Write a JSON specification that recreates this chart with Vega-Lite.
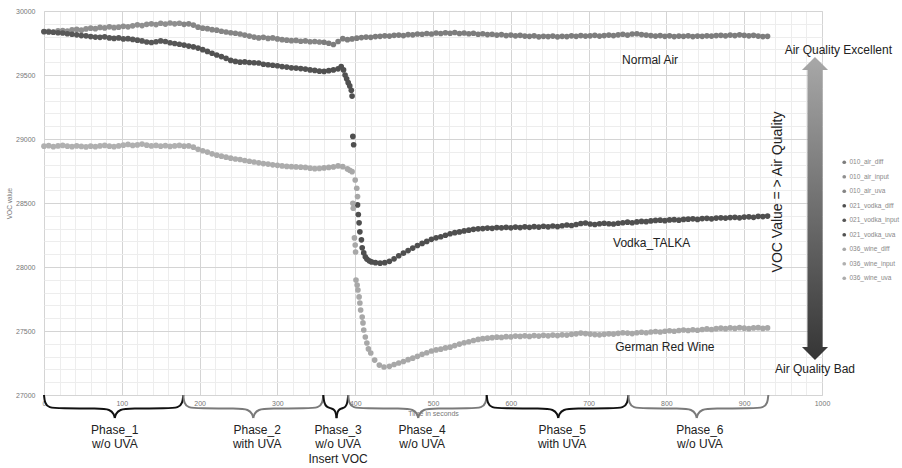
{
"$schema":"https://vega.github.io/schema/vega-lite/v6.json",
"width":778,"height":384,
"autosize":{"type":"none"},
"padding":{"left":44,"top":11,"right":80,"bottom":73},
"background":"white",
"config":{"view":{"stroke":"#d6d6d6"},"font":"Liberation Sans"},
"datasets":{
"pts":[
{"t":0,"v":29838,"s":"010_air_input"},{"t":6,"v":29842,"s":"010_air_input"},{"t":12,"v":29836,"s":"010_air_input"},{"t":18,"v":29845,"s":"010_air_input"},{"t":24,"v":29848,"s":"010_air_input"},{"t":30,"v":29844,"s":"010_air_input"},{"t":36,"v":29852,"s":"010_air_input"},{"t":42,"v":29856,"s":"010_air_input"},{"t":48,"v":29850,"s":"010_air_input"},{"t":54,"v":29860,"s":"010_air_input"},{"t":60,"v":29866,"s":"010_air_input"},{"t":66,"v":29862,"s":"010_air_input"},{"t":72,"v":29872,"s":"010_air_input"},{"t":78,"v":29868,"s":"010_air_input"},{"t":84,"v":29876,"s":"010_air_input"},{"t":90,"v":29870,"s":"010_air_input"},{"t":96,"v":29874,"s":"010_air_input"},{"t":102,"v":29880,"s":"010_air_input"},{"t":108,"v":29876,"s":"010_air_input"},{"t":114,"v":29884,"s":"010_air_input"},{"t":120,"v":29892,"s":"010_air_input"},{"t":126,"v":29886,"s":"010_air_input"},{"t":132,"v":29896,"s":"010_air_input"},{"t":138,"v":29900,"s":"010_air_input"},{"t":144,"v":29894,"s":"010_air_input"},{"t":150,"v":29904,"s":"010_air_input"},{"t":156,"v":29898,"s":"010_air_input"},{"t":162,"v":29906,"s":"010_air_input"},{"t":168,"v":29900,"s":"010_air_input"},{"t":174,"v":29904,"s":"010_air_input"},
{"t":180,"v":29896,"s":"010_air_uva"},{"t":186,"v":29900,"s":"010_air_uva"},{"t":192,"v":29890,"s":"010_air_uva"},{"t":198,"v":29874,"s":"010_air_uva"},{"t":204,"v":29866,"s":"010_air_uva"},{"t":210,"v":29862,"s":"010_air_uva"},{"t":216,"v":29854,"s":"010_air_uva"},{"t":222,"v":29850,"s":"010_air_uva"},{"t":228,"v":29842,"s":"010_air_uva"},{"t":234,"v":29836,"s":"010_air_uva"},{"t":240,"v":29830,"s":"010_air_uva"},{"t":246,"v":29826,"s":"010_air_uva"},{"t":252,"v":29820,"s":"010_air_uva"},{"t":258,"v":29812,"s":"010_air_uva"},{"t":264,"v":29804,"s":"010_air_uva"},{"t":270,"v":29796,"s":"010_air_uva"},{"t":276,"v":29790,"s":"010_air_uva"},{"t":282,"v":29794,"s":"010_air_uva"},{"t":288,"v":29786,"s":"010_air_uva"},{"t":294,"v":29790,"s":"010_air_uva"},{"t":300,"v":29782,"s":"010_air_uva"},{"t":306,"v":29776,"s":"010_air_uva"},{"t":312,"v":29772,"s":"010_air_uva"},{"t":318,"v":29768,"s":"010_air_uva"},{"t":324,"v":29770,"s":"010_air_uva"},{"t":330,"v":29764,"s":"010_air_uva"},{"t":336,"v":29766,"s":"010_air_uva"},{"t":342,"v":29760,"s":"010_air_uva"},{"t":348,"v":29762,"s":"010_air_uva"},{"t":354,"v":29758,"s":"010_air_uva"},
{"t":360,"v":29756,"s":"010_air_diff"},{"t":366,"v":29748,"s":"010_air_diff"},{"t":372,"v":29738,"s":"010_air_diff"},{"t":378,"v":29762,"s":"010_air_diff"},{"t":384,"v":29784,"s":"010_air_diff"},{"t":390,"v":29776,"s":"010_air_diff"},{"t":396,"v":29782,"s":"010_air_diff"},{"t":402,"v":29788,"s":"010_air_diff"},{"t":408,"v":29792,"s":"010_air_diff"},{"t":414,"v":29796,"s":"010_air_diff"},{"t":420,"v":29794,"s":"010_air_diff"},{"t":426,"v":29800,"s":"010_air_diff"},{"t":432,"v":29802,"s":"010_air_diff"},{"t":438,"v":29806,"s":"010_air_diff"},{"t":444,"v":29804,"s":"010_air_diff"},{"t":450,"v":29810,"s":"010_air_diff"},{"t":456,"v":29812,"s":"010_air_diff"},{"t":462,"v":29808,"s":"010_air_diff"},{"t":468,"v":29816,"s":"010_air_diff"},{"t":474,"v":29814,"s":"010_air_diff"},{"t":480,"v":29820,"s":"010_air_diff"},{"t":486,"v":29818,"s":"010_air_diff"},{"t":492,"v":29824,"s":"010_air_diff"},{"t":498,"v":29820,"s":"010_air_diff"},{"t":504,"v":29828,"s":"010_air_diff"},{"t":510,"v":29824,"s":"010_air_diff"},{"t":516,"v":29830,"s":"010_air_diff"},{"t":522,"v":29826,"s":"010_air_diff"},{"t":528,"v":29832,"s":"010_air_diff"},{"t":534,"v":29824,"s":"010_air_diff"},{"t":540,"v":29828,"s":"010_air_diff"},{"t":546,"v":29822,"s":"010_air_diff"},{"t":552,"v":29826,"s":"010_air_diff"},{"t":558,"v":29818,"s":"010_air_diff"},{"t":564,"v":29822,"s":"010_air_diff"},{"t":570,"v":29816,"s":"010_air_diff"},{"t":576,"v":29818,"s":"010_air_diff"},{"t":582,"v":29812,"s":"010_air_diff"},{"t":588,"v":29816,"s":"010_air_diff"},{"t":594,"v":29808,"s":"010_air_diff"},{"t":600,"v":29812,"s":"010_air_diff"},{"t":606,"v":29806,"s":"010_air_diff"},{"t":612,"v":29810,"s":"010_air_diff"},{"t":618,"v":29804,"s":"010_air_diff"},{"t":624,"v":29802,"s":"010_air_diff"},{"t":630,"v":29806,"s":"010_air_diff"},{"t":636,"v":29798,"s":"010_air_diff"},{"t":642,"v":29802,"s":"010_air_diff"},{"t":648,"v":29800,"s":"010_air_diff"},{"t":654,"v":29804,"s":"010_air_diff"},{"t":660,"v":29798,"s":"010_air_diff"},{"t":666,"v":29802,"s":"010_air_diff"},{"t":672,"v":29800,"s":"010_air_diff"},{"t":678,"v":29806,"s":"010_air_diff"},{"t":684,"v":29802,"s":"010_air_diff"},{"t":690,"v":29808,"s":"010_air_diff"},{"t":696,"v":29804,"s":"010_air_diff"},{"t":702,"v":29806,"s":"010_air_diff"},{"t":708,"v":29810,"s":"010_air_diff"},{"t":714,"v":29804,"s":"010_air_diff"},{"t":720,"v":29808,"s":"010_air_diff"},{"t":726,"v":29812,"s":"010_air_diff"},{"t":732,"v":29808,"s":"010_air_diff"},{"t":738,"v":29814,"s":"010_air_diff"},{"t":744,"v":29818,"s":"010_air_diff"},{"t":750,"v":29812,"s":"010_air_diff"},{"t":756,"v":29820,"s":"010_air_diff"},{"t":762,"v":29822,"s":"010_air_diff"},{"t":768,"v":29816,"s":"010_air_diff"},{"t":774,"v":29812,"s":"010_air_diff"},{"t":780,"v":29808,"s":"010_air_diff"},{"t":786,"v":29804,"s":"010_air_diff"},{"t":792,"v":29808,"s":"010_air_diff"},{"t":798,"v":29802,"s":"010_air_diff"},{"t":804,"v":29806,"s":"010_air_diff"},{"t":810,"v":29800,"s":"010_air_diff"},{"t":816,"v":29804,"s":"010_air_diff"},{"t":822,"v":29802,"s":"010_air_diff"},{"t":828,"v":29806,"s":"010_air_diff"},{"t":834,"v":29800,"s":"010_air_diff"},{"t":840,"v":29804,"s":"010_air_diff"},{"t":846,"v":29802,"s":"010_air_diff"},{"t":852,"v":29806,"s":"010_air_diff"},{"t":858,"v":29804,"s":"010_air_diff"},{"t":864,"v":29808,"s":"010_air_diff"},{"t":870,"v":29810,"s":"010_air_diff"},{"t":876,"v":29806,"s":"010_air_diff"},{"t":882,"v":29812,"s":"010_air_diff"},{"t":888,"v":29808,"s":"010_air_diff"},{"t":894,"v":29814,"s":"010_air_diff"},{"t":900,"v":29810,"s":"010_air_diff"},{"t":906,"v":29806,"s":"010_air_diff"},{"t":912,"v":29810,"s":"010_air_diff"},{"t":918,"v":29804,"s":"010_air_diff"},{"t":924,"v":29800,"s":"010_air_diff"},{"t":930,"v":29802,"s":"010_air_diff"},
{"t":0,"v":29840,"s":"021_vodka_input"},{"t":6,"v":29836,"s":"021_vodka_input"},{"t":12,"v":29834,"s":"021_vodka_input"},{"t":18,"v":29830,"s":"021_vodka_input"},{"t":24,"v":29828,"s":"021_vodka_input"},{"t":30,"v":29822,"s":"021_vodka_input"},{"t":36,"v":29818,"s":"021_vodka_input"},{"t":42,"v":29814,"s":"021_vodka_input"},{"t":48,"v":29808,"s":"021_vodka_input"},{"t":54,"v":29806,"s":"021_vodka_input"},{"t":60,"v":29800,"s":"021_vodka_input"},{"t":66,"v":29796,"s":"021_vodka_input"},{"t":72,"v":29794,"s":"021_vodka_input"},{"t":78,"v":29798,"s":"021_vodka_input"},{"t":84,"v":29790,"s":"021_vodka_input"},{"t":90,"v":29786,"s":"021_vodka_input"},{"t":96,"v":29790,"s":"021_vodka_input"},{"t":102,"v":29782,"s":"021_vodka_input"},{"t":108,"v":29784,"s":"021_vodka_input"},{"t":114,"v":29778,"s":"021_vodka_input"},{"t":120,"v":29772,"s":"021_vodka_input"},{"t":126,"v":29766,"s":"021_vodka_input"},{"t":132,"v":29758,"s":"021_vodka_input"},{"t":138,"v":29754,"s":"021_vodka_input"},{"t":144,"v":29760,"s":"021_vodka_input"},{"t":150,"v":29766,"s":"021_vodka_input"},{"t":156,"v":29762,"s":"021_vodka_input"},{"t":162,"v":29752,"s":"021_vodka_input"},{"t":168,"v":29746,"s":"021_vodka_input"},{"t":174,"v":29740,"s":"021_vodka_input"},
{"t":180,"v":29734,"s":"021_vodka_uva"},{"t":186,"v":29726,"s":"021_vodka_uva"},{"t":192,"v":29720,"s":"021_vodka_uva"},{"t":198,"v":29710,"s":"021_vodka_uva"},{"t":204,"v":29698,"s":"021_vodka_uva"},{"t":210,"v":29684,"s":"021_vodka_uva"},{"t":216,"v":29670,"s":"021_vodka_uva"},{"t":222,"v":29656,"s":"021_vodka_uva"},{"t":228,"v":29644,"s":"021_vodka_uva"},{"t":234,"v":29630,"s":"021_vodka_uva"},{"t":240,"v":29614,"s":"021_vodka_uva"},{"t":246,"v":29606,"s":"021_vodka_uva"},{"t":252,"v":29600,"s":"021_vodka_uva"},{"t":258,"v":29602,"s":"021_vodka_uva"},{"t":264,"v":29598,"s":"021_vodka_uva"},{"t":270,"v":29596,"s":"021_vodka_uva"},{"t":276,"v":29594,"s":"021_vodka_uva"},{"t":282,"v":29584,"s":"021_vodka_uva"},{"t":288,"v":29580,"s":"021_vodka_uva"},{"t":294,"v":29576,"s":"021_vodka_uva"},{"t":300,"v":29572,"s":"021_vodka_uva"},{"t":306,"v":29566,"s":"021_vodka_uva"},{"t":312,"v":29562,"s":"021_vodka_uva"},{"t":318,"v":29556,"s":"021_vodka_uva"},{"t":324,"v":29554,"s":"021_vodka_uva"},{"t":330,"v":29550,"s":"021_vodka_uva"},{"t":336,"v":29546,"s":"021_vodka_uva"},{"t":342,"v":29540,"s":"021_vodka_uva"},{"t":348,"v":29536,"s":"021_vodka_uva"},{"t":354,"v":29530,"s":"021_vodka_uva"},
{"t":360,"v":29528,"s":"021_vodka_diff"},{"t":366,"v":29534,"s":"021_vodka_diff"},{"t":372,"v":29540,"s":"021_vodka_diff"},{"t":378,"v":29548,"s":"021_vodka_diff"},{"t":382,"v":29566,"s":"021_vodka_diff"},{"t":385,"v":29540,"s":"021_vodka_diff"},{"t":387,"v":29500,"s":"021_vodka_diff"},{"t":389,"v":29470,"s":"021_vodka_diff"},{"t":391,"v":29440,"s":"021_vodka_diff"},{"t":393,"v":29415,"s":"021_vodka_diff"},{"t":395,"v":29380,"s":"021_vodka_diff"},{"t":396,"v":29335,"s":"021_vodka_diff"},{"t":397,"v":29020,"s":"021_vodka_diff"},{"t":398,"v":28955,"s":"021_vodka_diff"},{"t":403,"v":28485,"s":"021_vodka_diff"},{"t":404,"v":28410,"s":"021_vodka_diff"},{"t":405,"v":28345,"s":"021_vodka_diff"},{"t":406,"v":28275,"s":"021_vodka_diff"},{"t":408,"v":28212,"s":"021_vodka_diff"},{"t":409,"v":28150,"s":"021_vodka_diff"},{"t":411,"v":28110,"s":"021_vodka_diff"},{"t":413,"v":28080,"s":"021_vodka_diff"},{"t":415,"v":28062,"s":"021_vodka_diff"},{"t":418,"v":28048,"s":"021_vodka_diff"},{"t":421,"v":28040,"s":"021_vodka_diff"},{"t":426,"v":28034,"s":"021_vodka_diff"},{"t":432,"v":28030,"s":"021_vodka_diff"},{"t":438,"v":28034,"s":"021_vodka_diff"},{"t":444,"v":28044,"s":"021_vodka_diff"},{"t":450,"v":28064,"s":"021_vodka_diff"},{"t":456,"v":28088,"s":"021_vodka_diff"},{"t":462,"v":28108,"s":"021_vodka_diff"},{"t":468,"v":28128,"s":"021_vodka_diff"},{"t":474,"v":28148,"s":"021_vodka_diff"},{"t":480,"v":28168,"s":"021_vodka_diff"},{"t":486,"v":28184,"s":"021_vodka_diff"},{"t":492,"v":28200,"s":"021_vodka_diff"},{"t":498,"v":28216,"s":"021_vodka_diff"},{"t":504,"v":28228,"s":"021_vodka_diff"},{"t":510,"v":28236,"s":"021_vodka_diff"},{"t":516,"v":28248,"s":"021_vodka_diff"},{"t":522,"v":28260,"s":"021_vodka_diff"},{"t":528,"v":28268,"s":"021_vodka_diff"},{"t":534,"v":28274,"s":"021_vodka_diff"},{"t":540,"v":28282,"s":"021_vodka_diff"},{"t":546,"v":28288,"s":"021_vodka_diff"},{"t":552,"v":28294,"s":"021_vodka_diff"},{"t":558,"v":28298,"s":"021_vodka_diff"},{"t":564,"v":28300,"s":"021_vodka_diff"},{"t":570,"v":28304,"s":"021_vodka_diff"},{"t":576,"v":28302,"s":"021_vodka_diff"},{"t":582,"v":28308,"s":"021_vodka_diff"},{"t":588,"v":28306,"s":"021_vodka_diff"},{"t":594,"v":28310,"s":"021_vodka_diff"},{"t":600,"v":28306,"s":"021_vodka_diff"},{"t":606,"v":28312,"s":"021_vodka_diff"},{"t":612,"v":28308,"s":"021_vodka_diff"},{"t":618,"v":28314,"s":"021_vodka_diff"},{"t":624,"v":28310,"s":"021_vodka_diff"},{"t":630,"v":28316,"s":"021_vodka_diff"},{"t":636,"v":28312,"s":"021_vodka_diff"},{"t":642,"v":28318,"s":"021_vodka_diff"},{"t":648,"v":28314,"s":"021_vodka_diff"},{"t":654,"v":28320,"s":"021_vodka_diff"},{"t":660,"v":28316,"s":"021_vodka_diff"},{"t":666,"v":28322,"s":"021_vodka_diff"},{"t":672,"v":28328,"s":"021_vodka_diff"},{"t":678,"v":28324,"s":"021_vodka_diff"},{"t":684,"v":28332,"s":"021_vodka_diff"},{"t":690,"v":28340,"s":"021_vodka_diff"},{"t":696,"v":28344,"s":"021_vodka_diff"},{"t":702,"v":28336,"s":"021_vodka_diff"},{"t":708,"v":28332,"s":"021_vodka_diff"},{"t":714,"v":28338,"s":"021_vodka_diff"},{"t":720,"v":28342,"s":"021_vodka_diff"},{"t":726,"v":28338,"s":"021_vodka_diff"},{"t":732,"v":28336,"s":"021_vodka_diff"},{"t":738,"v":28342,"s":"021_vodka_diff"},{"t":744,"v":28346,"s":"021_vodka_diff"},{"t":750,"v":28350,"s":"021_vodka_diff"},{"t":756,"v":28346,"s":"021_vodka_diff"},{"t":762,"v":28352,"s":"021_vodka_diff"},{"t":768,"v":28356,"s":"021_vodka_diff"},{"t":774,"v":28354,"s":"021_vodka_diff"},{"t":780,"v":28360,"s":"021_vodka_diff"},{"t":786,"v":28364,"s":"021_vodka_diff"},{"t":792,"v":28366,"s":"021_vodka_diff"},{"t":798,"v":28362,"s":"021_vodka_diff"},{"t":804,"v":28368,"s":"021_vodka_diff"},{"t":810,"v":28370,"s":"021_vodka_diff"},{"t":816,"v":28366,"s":"021_vodka_diff"},{"t":822,"v":28372,"s":"021_vodka_diff"},{"t":828,"v":28374,"s":"021_vodka_diff"},{"t":834,"v":28376,"s":"021_vodka_diff"},{"t":840,"v":28372,"s":"021_vodka_diff"},{"t":846,"v":28378,"s":"021_vodka_diff"},{"t":852,"v":28380,"s":"021_vodka_diff"},{"t":858,"v":28376,"s":"021_vodka_diff"},{"t":864,"v":28382,"s":"021_vodka_diff"},{"t":870,"v":28384,"s":"021_vodka_diff"},{"t":876,"v":28382,"s":"021_vodka_diff"},{"t":882,"v":28386,"s":"021_vodka_diff"},{"t":888,"v":28388,"s":"021_vodka_diff"},{"t":894,"v":28384,"s":"021_vodka_diff"},{"t":900,"v":28390,"s":"021_vodka_diff"},{"t":906,"v":28392,"s":"021_vodka_diff"},{"t":912,"v":28388,"s":"021_vodka_diff"},{"t":918,"v":28396,"s":"021_vodka_diff"},{"t":924,"v":28394,"s":"021_vodka_diff"},{"t":930,"v":28398,"s":"021_vodka_diff"},
{"t":0,"v":28944,"s":"036_wine_input"},{"t":6,"v":28948,"s":"036_wine_input"},{"t":12,"v":28940,"s":"036_wine_input"},{"t":18,"v":28946,"s":"036_wine_input"},{"t":24,"v":28950,"s":"036_wine_input"},{"t":30,"v":28944,"s":"036_wine_input"},{"t":36,"v":28940,"s":"036_wine_input"},{"t":42,"v":28946,"s":"036_wine_input"},{"t":48,"v":28942,"s":"036_wine_input"},{"t":54,"v":28938,"s":"036_wine_input"},{"t":60,"v":28944,"s":"036_wine_input"},{"t":66,"v":28940,"s":"036_wine_input"},{"t":72,"v":28946,"s":"036_wine_input"},{"t":78,"v":28950,"s":"036_wine_input"},{"t":84,"v":28944,"s":"036_wine_input"},{"t":90,"v":28940,"s":"036_wine_input"},{"t":96,"v":28946,"s":"036_wine_input"},{"t":102,"v":28952,"s":"036_wine_input"},{"t":108,"v":28958,"s":"036_wine_input"},{"t":114,"v":28950,"s":"036_wine_input"},{"t":120,"v":28954,"s":"036_wine_input"},{"t":126,"v":28960,"s":"036_wine_input"},{"t":132,"v":28952,"s":"036_wine_input"},{"t":138,"v":28946,"s":"036_wine_input"},{"t":144,"v":28950,"s":"036_wine_input"},{"t":150,"v":28944,"s":"036_wine_input"},{"t":156,"v":28948,"s":"036_wine_input"},{"t":162,"v":28942,"s":"036_wine_input"},{"t":168,"v":28946,"s":"036_wine_input"},{"t":174,"v":28950,"s":"036_wine_input"},
{"t":180,"v":28944,"s":"036_wine_uva"},{"t":186,"v":28946,"s":"036_wine_uva"},{"t":192,"v":28936,"s":"036_wine_uva"},{"t":198,"v":28920,"s":"036_wine_uva"},{"t":204,"v":28908,"s":"036_wine_uva"},{"t":210,"v":28898,"s":"036_wine_uva"},{"t":216,"v":28884,"s":"036_wine_uva"},{"t":222,"v":28874,"s":"036_wine_uva"},{"t":228,"v":28866,"s":"036_wine_uva"},{"t":234,"v":28858,"s":"036_wine_uva"},{"t":240,"v":28850,"s":"036_wine_uva"},{"t":246,"v":28844,"s":"036_wine_uva"},{"t":252,"v":28840,"s":"036_wine_uva"},{"t":258,"v":28832,"s":"036_wine_uva"},{"t":264,"v":28826,"s":"036_wine_uva"},{"t":270,"v":28820,"s":"036_wine_uva"},{"t":276,"v":28814,"s":"036_wine_uva"},{"t":282,"v":28808,"s":"036_wine_uva"},{"t":288,"v":28804,"s":"036_wine_uva"},{"t":294,"v":28798,"s":"036_wine_uva"},{"t":300,"v":28794,"s":"036_wine_uva"},{"t":306,"v":28790,"s":"036_wine_uva"},{"t":312,"v":28786,"s":"036_wine_uva"},{"t":318,"v":28784,"s":"036_wine_uva"},{"t":324,"v":28782,"s":"036_wine_uva"},{"t":330,"v":28780,"s":"036_wine_uva"},{"t":336,"v":28778,"s":"036_wine_uva"},{"t":342,"v":28772,"s":"036_wine_uva"},{"t":348,"v":28768,"s":"036_wine_uva"},{"t":354,"v":28770,"s":"036_wine_uva"},
{"t":360,"v":28774,"s":"036_wine_diff"},{"t":366,"v":28778,"s":"036_wine_diff"},{"t":372,"v":28782,"s":"036_wine_diff"},{"t":378,"v":28790,"s":"036_wine_diff"},{"t":384,"v":28784,"s":"036_wine_diff"},{"t":390,"v":28766,"s":"036_wine_diff"},{"t":393,"v":28756,"s":"036_wine_diff"},{"t":396,"v":28745,"s":"036_wine_diff"},{"t":397,"v":28498,"s":"036_wine_diff"},{"t":397.5,"v":28459,"s":"036_wine_diff"},{"t":399,"v":28227,"s":"036_wine_diff"},{"t":400,"v":28172,"s":"036_wine_diff"},{"t":400.5,"v":28117,"s":"036_wine_diff"},{"t":401,"v":27898,"s":"036_wine_diff"},{"t":400,"v":28680,"s":"036_wine_diff"},{"t":402,"v":28615,"s":"036_wine_diff"},{"t":403,"v":28550,"s":"036_wine_diff"},{"t":402.5,"v":27859,"s":"036_wine_diff"},{"t":403.5,"v":27820,"s":"036_wine_diff"},{"t":405,"v":27766,"s":"036_wine_diff"},{"t":406,"v":27719,"s":"036_wine_diff"},{"t":407,"v":27664,"s":"036_wine_diff"},{"t":409,"v":27609,"s":"036_wine_diff"},{"t":410,"v":27563,"s":"036_wine_diff"},{"t":411,"v":27508,"s":"036_wine_diff"},{"t":413,"v":27453,"s":"036_wine_diff"},{"t":415,"v":27406,"s":"036_wine_diff"},{"t":417,"v":27360,"s":"036_wine_diff"},{"t":420,"v":27328,"s":"036_wine_diff"},{"t":425,"v":27273,"s":"036_wine_diff"},{"t":431,"v":27234,"s":"036_wine_diff"},{"t":437,"v":27219,"s":"036_wine_diff"},{"t":444,"v":27224,"s":"036_wine_diff"},{"t":450,"v":27238,"s":"036_wine_diff"},{"t":456,"v":27250,"s":"036_wine_diff"},{"t":462,"v":27262,"s":"036_wine_diff"},{"t":468,"v":27276,"s":"036_wine_diff"},{"t":474,"v":27288,"s":"036_wine_diff"},{"t":480,"v":27302,"s":"036_wine_diff"},{"t":486,"v":27318,"s":"036_wine_diff"},{"t":492,"v":27330,"s":"036_wine_diff"},{"t":498,"v":27344,"s":"036_wine_diff"},{"t":504,"v":27352,"s":"036_wine_diff"},{"t":510,"v":27358,"s":"036_wine_diff"},{"t":516,"v":27368,"s":"036_wine_diff"},{"t":522,"v":27374,"s":"036_wine_diff"},{"t":528,"v":27386,"s":"036_wine_diff"},{"t":534,"v":27398,"s":"036_wine_diff"},{"t":540,"v":27408,"s":"036_wine_diff"},{"t":546,"v":27416,"s":"036_wine_diff"},{"t":552,"v":27426,"s":"036_wine_diff"},{"t":558,"v":27434,"s":"036_wine_diff"},{"t":564,"v":27440,"s":"036_wine_diff"},{"t":570,"v":27444,"s":"036_wine_diff"},{"t":576,"v":27448,"s":"036_wine_diff"},{"t":582,"v":27452,"s":"036_wine_diff"},{"t":588,"v":27450,"s":"036_wine_diff"},{"t":594,"v":27456,"s":"036_wine_diff"},{"t":600,"v":27454,"s":"036_wine_diff"},{"t":606,"v":27460,"s":"036_wine_diff"},{"t":612,"v":27458,"s":"036_wine_diff"},{"t":618,"v":27462,"s":"036_wine_diff"},{"t":624,"v":27458,"s":"036_wine_diff"},{"t":630,"v":27464,"s":"036_wine_diff"},{"t":636,"v":27460,"s":"036_wine_diff"},{"t":642,"v":27466,"s":"036_wine_diff"},{"t":648,"v":27462,"s":"036_wine_diff"},{"t":654,"v":27468,"s":"036_wine_diff"},{"t":660,"v":27464,"s":"036_wine_diff"},{"t":666,"v":27470,"s":"036_wine_diff"},{"t":672,"v":27468,"s":"036_wine_diff"},{"t":678,"v":27474,"s":"036_wine_diff"},{"t":684,"v":27478,"s":"036_wine_diff"},{"t":690,"v":27484,"s":"036_wine_diff"},{"t":696,"v":27480,"s":"036_wine_diff"},{"t":702,"v":27476,"s":"036_wine_diff"},{"t":708,"v":27472,"s":"036_wine_diff"},{"t":714,"v":27470,"s":"036_wine_diff"},{"t":720,"v":27474,"s":"036_wine_diff"},{"t":726,"v":27478,"s":"036_wine_diff"},{"t":732,"v":27476,"s":"036_wine_diff"},{"t":738,"v":27482,"s":"036_wine_diff"},{"t":744,"v":27486,"s":"036_wine_diff"},{"t":750,"v":27484,"s":"036_wine_diff"},{"t":756,"v":27480,"s":"036_wine_diff"},{"t":762,"v":27486,"s":"036_wine_diff"},{"t":768,"v":27490,"s":"036_wine_diff"},{"t":774,"v":27486,"s":"036_wine_diff"},{"t":780,"v":27492,"s":"036_wine_diff"},{"t":786,"v":27496,"s":"036_wine_diff"},{"t":792,"v":27492,"s":"036_wine_diff"},{"t":798,"v":27498,"s":"036_wine_diff"},{"t":804,"v":27502,"s":"036_wine_diff"},{"t":810,"v":27498,"s":"036_wine_diff"},{"t":816,"v":27504,"s":"036_wine_diff"},{"t":822,"v":27508,"s":"036_wine_diff"},{"t":828,"v":27504,"s":"036_wine_diff"},{"t":834,"v":27510,"s":"036_wine_diff"},{"t":840,"v":27506,"s":"036_wine_diff"},{"t":846,"v":27512,"s":"036_wine_diff"},{"t":852,"v":27516,"s":"036_wine_diff"},{"t":858,"v":27512,"s":"036_wine_diff"},{"t":864,"v":27518,"s":"036_wine_diff"},{"t":870,"v":27522,"s":"036_wine_diff"},{"t":876,"v":27518,"s":"036_wine_diff"},{"t":882,"v":27524,"s":"036_wine_diff"},{"t":888,"v":27520,"s":"036_wine_diff"},{"t":894,"v":27526,"s":"036_wine_diff"},{"t":900,"v":27522,"s":"036_wine_diff"},{"t":906,"v":27518,"s":"036_wine_diff"},{"t":912,"v":27524,"s":"036_wine_diff"},{"t":918,"v":27526,"s":"036_wine_diff"},{"t":924,"v":27520,"s":"036_wine_diff"},{"t":930,"v":27524,"s":"036_wine_diff"}
],
"braces":[
{"b":"1a","g":"A","t":0,"v":27000},{"b":"1a","g":"A","t":1,"v":26935},{"b":"1a","g":"A","t":6,"v":26900},{"b":"1a","g":"A","t":20,"v":26895},{"b":"1a","g":"A","t":71,"v":26895},{"b":"1a","g":"A","t":85,"v":26888},{"b":"1a","g":"A","t":90,"v":26850},{"b":"1a","g":"A","t":91,"v":26820},
{"b":"1b","g":"A","t":91,"v":26820},{"b":"1b","g":"A","t":92,"v":26850},{"b":"1b","g":"A","t":97,"v":26888},{"b":"1b","g":"A","t":111,"v":26895},{"b":"1b","g":"A","t":159,"v":26895},{"b":"1b","g":"A","t":173,"v":26900},{"b":"1b","g":"A","t":178,"v":26935},{"b":"1b","g":"A","t":179,"v":27000},
{"b":"2a","g":"B","t":179,"v":27000},{"b":"2a","g":"B","t":180,"v":26935},{"b":"2a","g":"B","t":185,"v":26900},{"b":"2a","g":"B","t":199,"v":26895},{"b":"2a","g":"B","t":249,"v":26895},{"b":"2a","g":"B","t":263,"v":26888},{"b":"2a","g":"B","t":268,"v":26850},{"b":"2a","g":"B","t":269,"v":26820},
{"b":"2b","g":"B","t":269,"v":26820},{"b":"2b","g":"B","t":270,"v":26850},{"b":"2b","g":"B","t":275,"v":26888},{"b":"2b","g":"B","t":289,"v":26895},{"b":"2b","g":"B","t":339,"v":26895},{"b":"2b","g":"B","t":353,"v":26900},{"b":"2b","g":"B","t":358,"v":26935},{"b":"2b","g":"B","t":359,"v":27000},
{"b":"3a","g":"A","t":359,"v":27000},{"b":"3a","g":"A","t":360,"v":26940},{"b":"3a","g":"A","t":363,"v":26905},{"b":"3a","g":"A","t":370,"v":26895},{"b":"3a","g":"A","t":374,"v":26880},{"b":"3a","g":"A","t":375.5,"v":26850},{"b":"3a","g":"A","t":376,"v":26820},
{"b":"3b","g":"A","t":376,"v":26820},{"b":"3b","g":"A","t":376.5,"v":26850},{"b":"3b","g":"A","t":378,"v":26880},{"b":"3b","g":"A","t":382,"v":26895},{"b":"3b","g":"A","t":388,"v":26905},{"b":"3b","g":"A","t":390,"v":26940},{"b":"3b","g":"A","t":391,"v":27000},
{"b":"4a","g":"B","t":391,"v":27000},{"b":"4a","g":"B","t":392,"v":26935},{"b":"4a","g":"B","t":397,"v":26900},{"b":"4a","g":"B","t":411,"v":26895},{"b":"4a","g":"B","t":461,"v":26895},{"b":"4a","g":"B","t":475,"v":26888},{"b":"4a","g":"B","t":480,"v":26850},{"b":"4a","g":"B","t":481,"v":26820},
{"b":"4b","g":"B","t":481,"v":26820},{"b":"4b","g":"B","t":482,"v":26850},{"b":"4b","g":"B","t":487,"v":26888},{"b":"4b","g":"B","t":501,"v":26895},{"b":"4b","g":"B","t":549,"v":26895},{"b":"4b","g":"B","t":563,"v":26900},{"b":"4b","g":"B","t":568,"v":26935},{"b":"4b","g":"B","t":569,"v":27000},
{"b":"5a","g":"A","t":569,"v":27000},{"b":"5a","g":"A","t":570,"v":26935},{"b":"5a","g":"A","t":575,"v":26900},{"b":"5a","g":"A","t":589,"v":26895},{"b":"5a","g":"A","t":641,"v":26895},{"b":"5a","g":"A","t":655,"v":26888},{"b":"5a","g":"A","t":660,"v":26850},{"b":"5a","g":"A","t":661,"v":26820},
{"b":"5b","g":"A","t":661,"v":26820},{"b":"5b","g":"A","t":662,"v":26850},{"b":"5b","g":"A","t":667,"v":26888},{"b":"5b","g":"A","t":681,"v":26895},{"b":"5b","g":"A","t":731,"v":26895},{"b":"5b","g":"A","t":745,"v":26900},{"b":"5b","g":"A","t":750,"v":26935},{"b":"5b","g":"A","t":751,"v":27000},
{"b":"6a","g":"B","t":751,"v":27000},{"b":"6a","g":"B","t":752,"v":26935},{"b":"6a","g":"B","t":757,"v":26900},{"b":"6a","g":"B","t":771,"v":26895},{"b":"6a","g":"B","t":819,"v":26895},{"b":"6a","g":"B","t":833,"v":26888},{"b":"6a","g":"B","t":838,"v":26850},{"b":"6a","g":"B","t":839,"v":26820},
{"b":"6b","g":"B","t":839,"v":26820},{"b":"6b","g":"B","t":840,"v":26850},{"b":"6b","g":"B","t":845,"v":26888},{"b":"6b","g":"B","t":859,"v":26895},{"b":"6b","g":"B","t":911,"v":26895},{"b":"6b","g":"B","t":925,"v":26900},{"b":"6b","g":"B","t":930,"v":26935},{"b":"6b","g":"B","t":931,"v":27000}
],
"phases":[
{"label":"Phase_1\nw/o UVA","t":91,"v":26766},
{"label":"Phase_2\nwith UVA","t":274,"v":26766},
{"label":"Phase_3\nw/o UVA\nInsert VOC","t":378,"v":26766},
{"label":"Phase_4\nw/o UVA","t":486,"v":26766},
{"label":"Phase_5\nwith UVA","t":666,"v":26766},
{"label":"Phase_6\nw/o UVA","t":843,"v":26766}
],
"notes":[
{"label":"Normal Air","t":779,"v":29617},
{"label":"Vodka_TALKA","t":781,"v":28188},
{"label":"German Red Wine","t":798,"v":27375},
{"label":"Air Quality Excellent","t":1021,"v":29695},
{"label":"Air Quality Bad","t":991,"v":27203}
],
"arrow":[{"t":991,"v":28457}],
"side":[{"label":"VOC Value = > Air Quality","t":943,"v":28586}]
},
"layer":[
{"data":{"name":"pts"},
 "mark":{"type":"circle","size":32,"opacity":1},
 "encoding":{
  "x":{"field":"t","type":"quantitative","scale":{"domain":[0,1000],"nice":false},
   "axis":{"title":"Time in seconds","tickCount":50,"format":"d","labelExpr":"datum.value % 100 === 0 ? datum.label : ''","labelOverlap":false,"labelFlush":false,"labelFontSize":7,"labelColor":"#777","labelPadding":4,"ticks":false,"domain":false,"grid":true,"gridColor":{"condition":{"test":"datum.value % 100 === 0","value":"#d4d4d4"},"value":"#ededed"},"titleFontSize":7,"titleFontWeight":"normal","titleColor":"#777","titlePadding":3}},
  "y":{"field":"v","type":"quantitative","scale":{"domain":[27000,30000],"nice":false,"zero":false},
   "axis":{"title":"VOC value","tickCount":30,"format":"d","labelExpr":"datum.value % 500 === 0 ? datum.label : ''","labelOverlap":false,"labelFlush":false,"labelFontSize":7,"labelColor":"#777","labelPadding":9,"ticks":false,"domain":false,"grid":true,"gridColor":{"condition":{"test":"datum.value % 500 === 0","value":"#d4d4d4"},"value":"#ededed"},"titleFontSize":6.5,"titleFontWeight":"normal","titleColor":"#777","titlePadding":3}},
  "color":{"field":"s","type":"nominal",
   "scale":{"domain":["010_air_diff","010_air_input","010_air_uva","021_vodka_diff","021_vodka_input","021_vodka_uva","036_wine_diff","036_wine_input","036_wine_uva"],
            "range":["#7d7d7d","#8f8f8f","#858585","#4f4f4f","#575757","#525252","#a8a8a8","#b0b0b0","#acacac"]},
   "legend":{"title":null,"orient":"none","legendX":797,"legendY":148,"symbolType":"circle","symbolSize":14,"labelFontSize":6.5,"labelColor":"#888","rowPadding":7.5,"labelOffset":2,"padding":0}}
 }},
{"data":{"name":"braces"},
 "mark":{"type":"line","interpolate":"basis","strokeWidth":2},
 "encoding":{
  "x":{"field":"t","type":"quantitative"},
  "y":{"field":"v","type":"quantitative"},
  "detail":{"field":"b","type":"nominal"},
  "stroke":{"field":"g","type":"nominal","scale":{"domain":["A","B"],"range":["#111111","#7a7a7a"]},"legend":null}
 }},
{"data":{"name":"phases"},
 "mark":{"type":"text","lineBreak":"\n","baseline":"top","align":"center","fontSize":12,"lineHeight":14.5,"color":"#222"},
 "encoding":{"x":{"field":"t","type":"quantitative"},"y":{"field":"v","type":"quantitative"},"text":{"field":"label","type":"nominal"}}},
{"data":{"name":"notes"},
 "mark":{"type":"text","baseline":"middle","align":"center","fontSize":12,"color":"#222"},
 "encoding":{"x":{"field":"t","type":"quantitative"},"y":{"field":"v","type":"quantitative"},"text":{"field":"label","type":"nominal"}}},
{"data":{"name":"arrow"},
 "mark":{"type":"point","filled":true,"opacity":1,"size":91809,"strokeWidth":0,
  "shape":"M0,-1L0.086,-0.914L0.05,-0.914L0.05,0.914L0.086,0.914L0,1L-0.086,0.914L-0.05,0.914L-0.05,-0.914L-0.086,-0.914Z",
  "fill":{"gradient":"linear","x1":0,"y1":0,"x2":0,"y2":1,"stops":[{"offset":0,"color":"#a8a8a8"},{"offset":1,"color":"#353535"}]}},
 "encoding":{"x":{"field":"t","type":"quantitative"},"y":{"field":"v","type":"quantitative"}}},
{"data":{"name":"side"},
 "mark":{"type":"text","angle":270,"baseline":"middle","align":"center","fontSize":14,"color":"#222"},
 "encoding":{"x":{"field":"t","type":"quantitative"},"y":{"field":"v","type":"quantitative"},"text":{"field":"label","type":"nominal"}}}
]
}
